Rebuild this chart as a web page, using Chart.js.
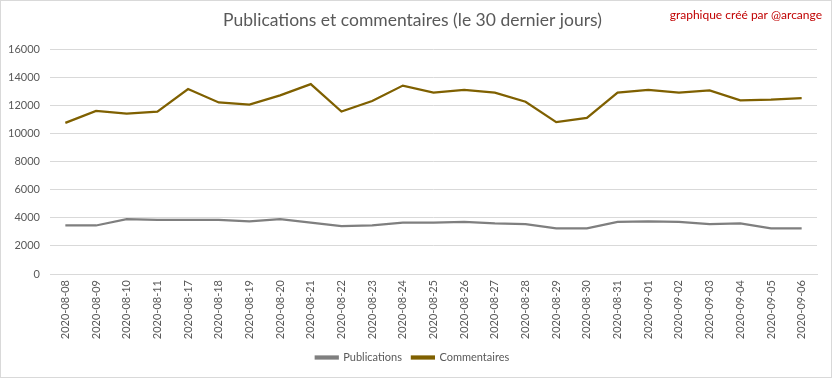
<!DOCTYPE html>
<html>
<head>
<meta charset="utf-8">
<script src="https://cdn.jsdelivr.net/npm/chart.js@4"></script>
<style>
html,body{margin:0;padding:0;background:#fff;}
#wrap{width:832px;height:378px;position:relative;}
</style>
</head>
<body>
<div id="wrap"><canvas id="c" width="832" height="378"></canvas></div>
<script>
const categories = ["2020-08-08","2020-08-09","2020-08-10","2020-08-11","2020-08-17","2020-08-18","2020-08-19","2020-08-20","2020-08-21","2020-08-22","2020-08-23","2020-08-24","2020-08-25","2020-08-26","2020-08-27","2020-08-28","2020-08-29","2020-08-30","2020-08-31","2020-09-01","2020-09-02","2020-09-03","2020-09-04","2020-09-05","2020-09-06"];
const publications = [3450,3450,3900,3850,3850,3850,3750,3900,3650,3400,3450,3650,3650,3700,3600,3550,3250,3250,3700,3750,3700,3550,3600,3250,3250];
const commentaires = [10750,11600,11400,11550,13150,12200,12050,12700,13500,11550,12300,13400,12900,13100,12900,12250,10800,11100,12900,13100,12900,13050,12350,12400,12500];
const yTicks = [0,2000,4000,6000,8000,10000,12000,14000,16000];
const titleText = "Publications et commentaires (le 30 dernier jours)";
const creditText = "graphique créé par @arcange";

const FONT = "Lato, 'Open Sans', sans-serif";

const decor = {
  id: 'decor',
  beforeDraw(chart) {
    const ctx = chart.ctx;
    ctx.save();
    ctx.fillStyle = '#ffffff';
    ctx.fillRect(0, 0, chart.width, chart.height);
    ctx.restore();
  },
  afterDraw(chart) {
    const ctx = chart.ctx;
    ctx.save();
    ctx.strokeStyle = '#d9d9d9';
    ctx.lineWidth = 1;
    ctx.strokeRect(0.5, 0.5, chart.width - 1, chart.height - 1);
    ctx.fillStyle = '#c00000';
    ctx.font = "12px " + FONT;
    ctx.textAlign = 'right';
    ctx.textBaseline = 'middle';
    ctx.fillText(creditText, 822, 15);
    ctx.restore();
  }
};

new Chart(document.getElementById('c'), {
  type: 'line',
  data: {
    labels: categories,
    datasets: [
      { label: 'Publications', data: publications, borderColor: '#7f7f7f', backgroundColor: '#7f7f7f', borderWidth: 2.25, pointRadius: 0, tension: 0, fill: false },
      { label: 'Commentaires', data: commentaires, borderColor: '#7f6000', backgroundColor: '#7f6000', borderWidth: 2.25, pointRadius: 0, tension: 0, fill: false }
    ]
  },
  options: {
    responsive: false,
    animation: false,
    layout: { padding: { left: 8, right: 15, top: 0, bottom: 5 } },
    plugins: {
      title: {
        display: true,
        text: titleText,
        color: '#595959',
        font: { family: FONT, size: 17.5, weight: 'normal' },
        padding: { top: 10, bottom: 18 }
      },
      legend: {
        position: 'bottom',
        labels: {
          color: '#595959',
          font: { family: FONT, size: 11 },
          boxWidth: 22,
          boxHeight: 2,
          padding: 10
        }
      },
      tooltip: { enabled: false }
    },
    scales: {
      x: {
        offset: true,
        grid: { display: false, drawTicks: false },
        border: { display: true, color: '#d9d9d9' },
        ticks: {
          color: '#595959',
          font: { family: FONT, size: 11 },
          minRotation: 90,
          maxRotation: 90,
          autoSkip: false,
          padding: 6
        },
        afterFit(s) { s.height = 68; }
      },
      y: {
        min: 0,
        max: 16000,
        afterBuildTicks(s) { s.ticks = yTicks.map(v => ({ value: v })); },
        grid: { color: '#d9d9d9', drawTicks: false },
        border: { display: false },
        ticks: {
          color: '#595959',
          font: { family: FONT, size: 11 },
          padding: 10,
          callback: v => String(v)
        },
        afterFit(s) { s.width = 42; }
      }
    }
  },
  plugins: [decor]
});
</script>
</body>
</html>
